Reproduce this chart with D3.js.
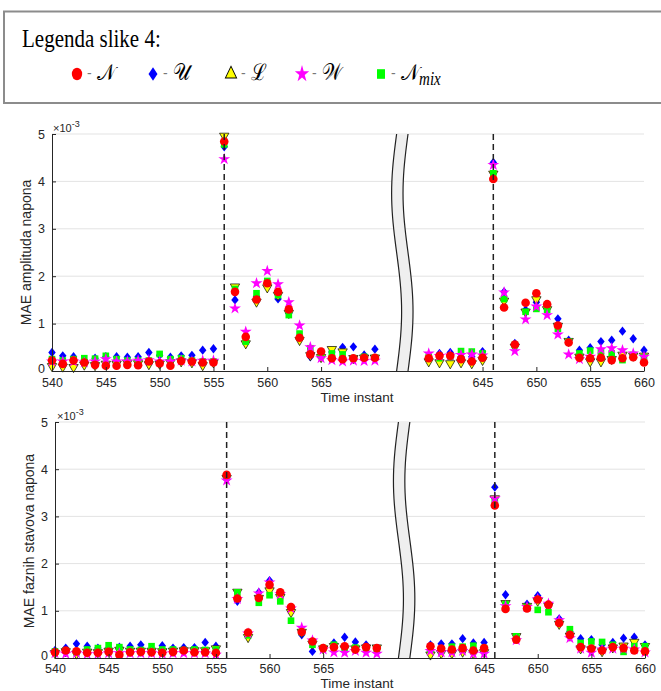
<!DOCTYPE html>
<html>
<head>
<meta charset="utf-8">
<script src="https://cdn.jsdelivr.net/npm/d3@7"></script>
<style>
  body { margin: 0; background: #fff; }
  svg { display: block; }
  text { font-family: "Liberation Sans", Arial, sans-serif; }
</style>
</head>
<body>
<div id="chart"></div>
<script>
// time instants: 540..570 then 640..660 (axis is broken in between)
const instants = d3.range(540, 571).concat(d3.range(640, 661));
const xTicks = [540, 545, 550, 555, 560, 565, 645, 650, 655, 660];
const yTicks = [0, 1, 2, 3, 4, 5];
const faultInstants = [556, 646];

// MAE amplituda napona (x 1e-3)
const ampN   = [0.22,0.15,0.22,0.18,0.13,0.11,0.11,0.13,0.12,0.20,0.16,0.11,0.21,0.20,0.18,0.18, 4.84,
                1.67,0.72,1.51,1.85,1.67,1.30,0.70,0.35,0.41,0.27,0.25,0.27,0.28,0.28,
                0.27,0.32,0.32,0.25,0.20,0.28, 4.05,
                1.34,0.56,1.44,1.64,1.41,0.96,0.60,0.28,0.27,0.28,0.23,0.27,0.29,0.18];
const ampU   = [0.39,0.32,0.30,0.23,0.27,0.30,0.30,0.29,0.30,0.39,0.33,0.29,0.32,0.33,0.44,0.47, 4.73,
                1.50,0.70,1.57,1.80,1.52,1.22,0.68,0.30,0.30,0.40,0.50,0.51,0.34,0.46,
                0.30,0.37,0.39,0.30,0.30,0.41, 4.40,
                1.67,0.58,1.29,1.45,1.32,1.10,0.65,0.44,0.49,0.62,0.65,0.84,0.68,0.44];
const ampL   = [0.10,0.09,0.08,0.13,0.12,0.15,0.15,0.17,0.16,0.14,0.15,0.18,0.20,0.18,0.12,0.18, 4.96,
                1.78,0.58,1.46,1.76,1.60,1.22,0.65,0.33,0.29,0.46,0.41,0.27,0.28,0.28,
                0.20,0.18,0.16,0.18,0.16,0.23, 4.16,
                1.48,0.51,1.25,1.51,1.30,0.95,0.63,0.30,0.20,0.20,0.25,0.34,0.32,0.32];
const ampW   = [0.20,0.20,0.20,0.18,0.20,0.25,0.20,0.20,0.22,0.23,0.20,0.20,0.22,0.20,0.22,0.22, 4.47,
                1.32,0.83,1.85,2.11,1.83,1.45,0.96,0.50,0.27,0.23,0.20,0.22,0.21,0.22,
                0.37,0.32,0.33,0.34,0.35,0.33, 4.35,
                1.66,0.42,1.09,1.36,1.18,0.77,0.35,0.25,0.30,0.46,0.48,0.44,0.37,0.30];
const ampMix = [0.25,0.22,0.25,0.27,0.26,0.32,0.25,0.22,0.22,0.22,0.36,0.25,0.27,0.22,0.20,0.20, 4.78,
                1.73,0.62,1.64,1.90,1.60,1.18,0.79,0.48,0.32,0.37,0.35,0.27,0.30,0.28,
                0.30,0.27,0.30,0.42,0.41,0.37, 4.17,
                1.52,0.55,1.25,1.31,1.29,0.89,0.62,0.37,0.43,0.39,0.37,0.23,0.34,0.29];

// MAE faznih stavova napona (x 1e-3)
const phN   = [0.12,0.16,0.14,0.11,0.11,0.13,0.07,0.12,0.13,0.12,0.11,0.13,0.16,0.12,0.12,0.11, 3.88,
               1.26,0.54,1.27,1.55,1.39,1.08,0.55,0.35,0.21,0.23,0.25,0.18,0.23,0.21,
               0.25,0.20,0.18,0.21,0.16,0.21, 3.23,
               1.04,0.39,1.05,1.24,1.13,0.74,0.49,0.23,0.20,0.16,0.23,0.21,0.16,0.14];
const phU   = [0.16,0.21,0.30,0.25,0.21,0.21,0.23,0.25,0.28,0.17,0.26,0.21,0.22,0.22,0.33,0.25, 3.80,
               1.20,0.50,1.39,1.64,1.38,1.00,0.49,0.14,0.20,0.32,0.44,0.34,0.28,0.20,
               0.28,0.30,0.30,0.41,0.32,0.33, 3.62,
               1.34,0.42,1.14,1.32,1.10,0.83,0.56,0.41,0.39,0.28,0.33,0.42,0.44,0.28];
const phL   = [0.10,0.14,0.09,0.13,0.12,0.15,0.17,0.15,0.15,0.15,0.14,0.15,0.16,0.16,0.16,0.20, 3.81,
               1.40,0.44,1.27,1.43,1.29,0.97,0.55,0.30,0.20,0.25,0.20,0.20,0.22,0.22,
               0.07,0.10,0.10,0.13,0.10,0.12, 3.38,
               1.16,0.46,1.10,1.21,1.10,0.72,0.47,0.20,0.18,0.14,0.22,0.26,0.34,0.25];
const phW   = [0.10,0.09,0.10,0.08,0.08,0.10,0.10,0.10,0.10,0.10,0.09,0.10,0.10,0.10,0.10,0.07, 3.76,
               1.25,0.52,1.37,1.60,1.35,1.05,0.64,0.37,0.18,0.12,0.11,0.15,0.11,0.09,
               0.15,0.12,0.12,0.15,0.09,0.09, 3.38,
               1.10,0.38,1.08,1.25,1.15,0.80,0.42,0.20,0.11,0.18,0.20,0.20,0.18,0.12];
const phMix = [0.14,0.16,0.12,0.18,0.21,0.27,0.23,0.18,0.17,0.25,0.18,0.18,0.17,0.18,0.17,0.18, 3.83,
               1.39,0.48,1.17,1.33,1.20,0.79,0.55,0.28,0.21,0.28,0.22,0.22,0.20,0.18,
               0.18,0.18,0.24,0.24,0.26,0.21, 3.33,
               1.14,0.46,1.08,1.02,0.97,0.75,0.61,0.32,0.35,0.34,0.28,0.13,0.25,0.25];

// MATLAB-like diamond (a bit wider than d3's)
const wideDiamond = {
  draw(ctx, size) {
    const h = Math.sqrt(size) * 0.85, w = h * 0.8;
    ctx.moveTo(0, -h); ctx.lineTo(w, 0); ctx.lineTo(0, h); ctx.lineTo(-w, 0); ctx.closePath();
  }
};

// series styles (draw order: U, L, mix, W, N)
const styles = {
  U:   { color: "#0000ff", type: wideDiamond,       size: 30, rot: 0,   stroke: "none" },
  L:   { color: "#ffff00", type: d3.symbolTriangle, size: 38, rot: 180, stroke: "#000" },
  mix: { color: "#00ff00", type: d3.symbolSquare,   size: 44, rot: 0,   stroke: "none" },
  W:   { color: "#ff00ff", type: d3.symbolStar,     size: 44, rot: 0,   stroke: "none" },
  N:   { color: "#ff0000", type: d3.symbolCircle,   size: 58, rot: 0,   stroke: "none" }
};

const W = 661, H = 691;
const svg = d3.select("#chart").append("svg")
  .attr("width", W).attr("height", H);

// ---------- legend ----------
svg.append("rect")
  .attr("x", 4).attr("y", 11.5).attr("width", 700).attr("height", 91.5)
  .attr("fill", "#fff").attr("stroke", "#8c8c8c").attr("stroke-width", 2);

svg.append("text")
  .attr("transform", "translate(22,46.5) scale(1,1.2)")
  .style("font-family", "'Liberation Serif', 'Times New Roman', serif")
  .style("font-size", "21px")
  .attr("fill", "#000")
  .text("Legenda slike 4:");

const legendItems = [
  { key: "N",   label: "\u{1D4A9}", sub: "",    x: 77 },
  { key: "U",   label: "\u{1D4B0}", sub: "",    x: 153 },
  { key: "L",   label: "\u2112",    sub: "",    x: 231 },
  { key: "W",   label: "\u{1D4B2}", sub: "",    x: 302 },
  { key: "mix", label: "\u{1D4A9}", sub: "mix", x: 381 }
];

const lg = svg.append("g");
legendItems.forEach(it => {
  const s = styles[it.key];
  lg.append("path")
    .attr("transform", `translate(${it.x},74) scale(1.2,1.45)`)
    .attr("d", d3.symbol().type(s.type).size(s.size)())
    .attr("fill", s.color)
    .attr("stroke", s.stroke).attr("stroke-width", 0.7);
  lg.append("text")
    .attr("x", it.x + 10).attr("y", 78)
    .attr("fill", "#777").style("font-size", "14px")
    .text("-");
  const t = lg.append("text")
    .attr("transform", `translate(${it.x + 20},80) scale(1,1.2)`)
    .style("font-family", "'DejaVu Serif', 'Liberation Serif', serif")
    .style("font-size", "19px")
    .style("font-weight", "normal")
    .attr("fill", "#000")
    .text(it.label);
  if (it.sub) {
    t.append("tspan")
      .attr("dy", 4)
      .style("font-family", "'Liberation Serif', serif")
      .style("font-style", "italic")
      .style("font-size", "15px")
      .text(it.sub);
  }
});

// ---------- panels ----------
const panels = [
  { left: 52, right: 644, top: 134, bottom: 371, xlabDy: 31, tickPad: 7,
    ylabel: "MAE amplituda napona", ylabX: 31, ylabY: 252.5, expX: 53,
    series: { U: ampU, L: ampL, mix: ampMix, W: ampW, N: ampN } },
  { left: 55, right: 645, top: 422, bottom: 658, xlabDy: 30, tickPad: 6,
    ylabel: "MAE faznih stavova napona", ylabX: 33.5, ylabY: 541, expX: 57,
    series: { U: phU, L: phL, mix: phMix, W: phW, N: phN } }
];

panels.forEach(p => {
  const g = svg.append("g");
  const u = (p.right - p.left) / 55;
  const x = d3.scaleLinear()
    .domain([540, 570, 640, 660])
    .range([p.left, p.left + 30 * u, p.left + 35 * u, p.right]);
  const y = d3.scaleLinear().domain([0, 5]).range([p.bottom, p.top]);

  // grid
  g.append("g").selectAll("line")
    .data(yTicks.filter(d => d > 0))
    .join("line")
    .attr("x1", p.left).attr("x2", p.right)
    .attr("y1", d => y(d)).attr("y2", d => y(d))
    .attr("stroke", "#e3e3e3").attr("stroke-width", 1);

  // markers
  ["U", "L", "mix", "W", "N"].forEach(k => {
    const s = styles[k];
    const vals = p.series[k];
    g.append("g").selectAll("path")
      .data(instants.map((t, i) => ({ t: t, v: vals[i] })))
      .join("path")
      .attr("transform", d => `translate(${x(d.t)},${y(d.v)}) rotate(${s.rot})`)
      .attr("d", d3.symbol().type(s.type).size(s.size)())
      .attr("fill", s.color)
      .attr("stroke", s.stroke)
      .attr("stroke-width", 0.7);
  });

  // fault lines
  g.append("g").selectAll("line")
    .data(faultInstants)
    .join("line")
    .attr("x1", d => x(d)).attr("x2", d => x(d))
    .attr("y1", p.top).attr("y2", p.bottom)
    .attr("stroke", "#222").attr("stroke-width", 1.5)
    .attr("stroke-dasharray", "6,4");

  // axes
  const gx = g.append("g")
    .attr("transform", `translate(0,${p.bottom})`)
    .call(d3.axisBottom(x).tickValues(xTicks).tickFormat(d3.format("d"))
      .tickSizeInner(-4).tickSizeOuter(0).tickPadding(p.tickPad));
  const gy = g.append("g")
    .attr("transform", `translate(${p.left},0)`)
    .call(d3.axisLeft(y).tickValues(yTicks).tickFormat(d3.format("d"))
      .tickSizeInner(-4).tickSizeOuter(0).tickPadding(7));
  [gx, gy].forEach(a => {
    a.select(".domain").attr("stroke", "#262626");
    a.selectAll(".tick line").attr("stroke", "#262626");
    a.selectAll(".tick text").attr("fill", "#262626")
      .style("font-size", "12.5px")
      .style("font-family", "'Liberation Sans', Arial, sans-serif");
  });
  // lift the "0" label a little so it clears the first x label
  gy.selectAll(".tick").filter(d => d === 0).select("text").attr("dy", "0.12em");

  // exponent
  const ex = g.append("text")
    .attr("x", p.expX).attr("y", p.top - 2)
    .attr("fill", "#262626").style("font-size", "11px")
    .text("\u00d710");
  ex.append("tspan").attr("dy", -5).style("font-size", "9px").text("-3");

  // axis labels
  g.append("text")
    .attr("transform", `translate(${p.ylabX},${p.ylabY}) rotate(-90)`)
    .attr("text-anchor", "middle")
    .attr("fill", "#262626").style("font-size", "14px")
    .text(p.ylabel);
  g.append("text")
    .attr("x", 357).attr("y", p.bottom + p.xlabDy)
    .attr("text-anchor", "middle")
    .attr("fill", "#262626").style("font-size", "13.5px")
    .text("Time instant");

  // axis break (wavy band)
  const xc = (x(570) + x(640)) / 2 + 0.5;
  const hw = 5.7, amp = 5;
  const ys = d3.range(0, 41).map(i => p.top + (p.bottom - p.top) * i / 40);
  const off = yy => -amp * Math.sin(2 * Math.PI * (yy - p.top) / (p.bottom - p.top));
  const leftPts = ys.map(yy => [xc - hw + off(yy), yy]);
  const rightPts = ys.map(yy => [xc + hw + off(yy), yy]);
  const line = d3.line();
  g.append("path")
    .attr("d", line(leftPts.concat(rightPts.slice().reverse())) + "Z")
    .attr("fill", "#efefef").attr("stroke", "none");
  g.append("path").attr("d", line(leftPts))
    .attr("fill", "none").attr("stroke", "#222").attr("stroke-width", 1.2);
  g.append("path").attr("d", line(rightPts))
    .attr("fill", "none").attr("stroke", "#222").attr("stroke-width", 1.2);
});
</script>
</body>
</html>
